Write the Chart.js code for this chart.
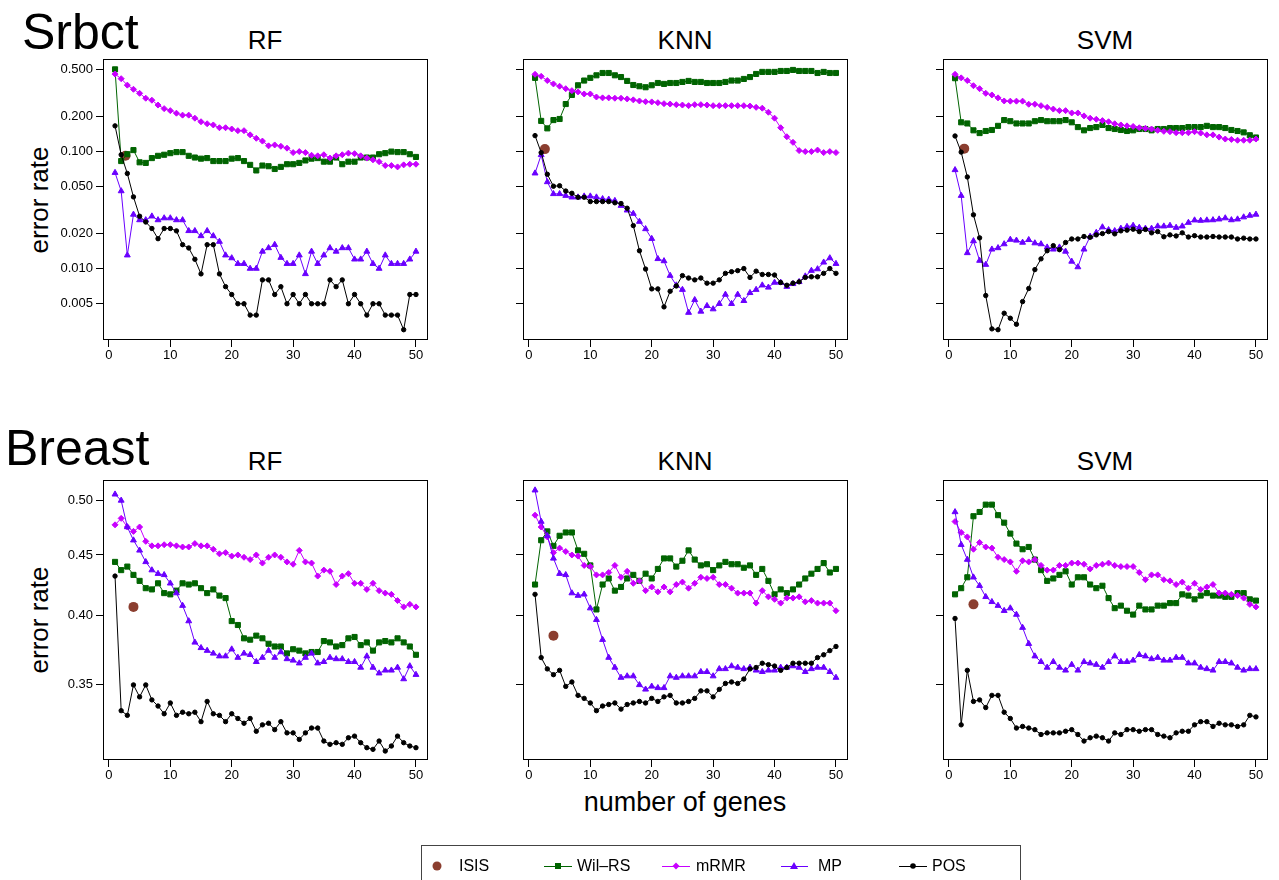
<!DOCTYPE html>
<html>
<head>
<meta charset="utf-8">
<script src="https://cdn.jsdelivr.net/npm/chart.js@4.4.1/dist/chart.umd.min.js"></script>
<style>
  body { margin: 0; background: #fff; }
  #page { position: relative; width: 1279px; height: 880px; overflow: hidden; background: #fff;
          font-family: "Liberation Sans", Arial, sans-serif; color: #000; }
  #page canvas { position: absolute; }
  .txt { position: absolute; line-height: 1; white-space: nowrap; }
  .big { font-size: 50px; }
  .ttl { font-size: 26px; transform: translateX(-50%); }
  .ylab { font-size: 26px; transform: translate(-50%, -50%) rotate(-90deg); }
  #legend { position: absolute; left: 421px; top: 845px; width: 598px; height: 60px; border: 1px solid #444; }
  .leg { position: absolute; font-size: 16px; line-height: 1; }
</style>
</head>
<body>
<div id="page">
  <div class="txt big" style="left:22px; top:7px;">Srbct</div>
  <div class="txt big" style="left:5px; top:423px;">Breast</div>
  <div class="txt ttl" style="left:265px; top:27px;">RF</div>
  <div class="txt ttl" style="left:685px; top:27px;">KNN</div>
  <div class="txt ttl" style="left:1105px; top:27px;">SVM</div>
  <div class="txt ttl" style="left:265px; top:448px;">RF</div>
  <div class="txt ttl" style="left:685px; top:448px;">KNN</div>
  <div class="txt ttl" style="left:1105px; top:448px;">SVM</div>
  <div class="txt ylab" style="left:39px; top:200px;">error rate</div>
  <div class="txt ylab" style="left:39px; top:620px;">error rate</div>
  <div class="txt ttl" style="left:685px; top:789px; font-size:27px;">number of genes</div>
  <div id="legend"></div>
  <canvas id="legendMarks" width="600" height="40" style="left:420px; top:846px;"></canvas>
  <div class="leg" style="left:459px; top:858px;">ISIS</div>
  <div class="leg" style="left:577px; top:858px;">Wil&#8211;RS</div>
  <div class="leg" style="left:696px; top:858px;">mRMR</div>
  <div class="leg" style="left:818px; top:858px;">MP</div>
  <div class="leg" style="left:932px; top:858px;">POS</div>
</div>
<script>
// number of genes (x axis)
const genes = [1,2,3,4,5,6,7,8,9,10,11,12,13,14,15,16,17,18,19,20,21,22,23,24,25,
               26,27,28,29,30,31,32,33,34,35,36,37,38,39,40,41,42,43,44,45,46,47,48,49,50];
const xTicks = [0, 10, 20, 30, 40, 50];

const srbctTicks = [0.005, 0.01, 0.02, 0.05, 0.1, 0.2, 0.5];
const srbctTickLabels = ['0.005', '0.010', '0.020', '0.050', '0.100', '0.200', '0.500'];
const breastTicks = [0.35, 0.40, 0.45, 0.50];
const breastTickLabels = ['0.35', '0.40', '0.45', '0.50'];

// Srbct - RF
const srbctRfWil = [0.505,0.083,0.095,0.103,0.081,0.080,0.088,0.092,0.094,0.097,0.099,0.099,0.092,0.089,0.087,0.088,0.083,0.083,0.083,0.087,0.088,0.083,0.077,0.069,0.076,0.075,0.071,0.074,0.078,0.078,0.080,0.084,0.087,0.088,0.082,0.082,0.089,0.078,0.082,0.082,0.089,0.089,0.089,0.095,0.097,0.100,0.099,0.099,0.095,0.090];
const srbctRfMrmr = [0.46,0.42,0.37,0.341,0.315,0.286,0.275,0.25,0.233,0.224,0.213,0.205,0.205,0.193,0.18,0.173,0.169,0.16,0.16,0.156,0.151,0.151,0.139,0.13,0.123,0.112,0.114,0.111,0.107,0.098,0.100,0.098,0.093,0.092,0.094,0.088,0.092,0.094,0.097,0.096,0.092,0.088,0.085,0.082,0.076,0.076,0.074,0.077,0.078,0.078];
const srbctRfMp = [0.066,0.046,0.013,0.029,0.026,0.026,0.028,0.026,0.027,0.027,0.026,0.026,0.021,0.021,0.019,0.021,0.019,0.017,0.013,0.0123,0.011,0.011,0.010,0.010,0.014,0.015,0.016,0.0124,0.011,0.011,0.013,0.009,0.014,0.011,0.013,0.015,0.014,0.015,0.015,0.012,0.012,0.014,0.011,0.010,0.013,0.011,0.011,0.011,0.012,0.014];
const srbctRfPos = [0.166,0.094,0.065,0.041,0.028,0.025,0.022,0.018,0.022,0.022,0.021,0.016,0.015,0.012,0.009,0.016,0.016,0.009,0.007,0.006,0.005,0.005,0.004,0.004,0.008,0.008,0.006,0.007,0.005,0.006,0.005,0.006,0.005,0.005,0.005,0.008,0.007,0.008,0.005,0.006,0.005,0.004,0.005,0.005,0.004,0.004,0.004,0.003,0.006,0.006];

// Srbct - KNN
const srbctKnnWil = [0.427,0.183,0.158,0.186,0.19,0.255,0.305,0.369,0.405,0.427,0.449,0.47,0.47,0.449,0.434,0.402,0.371,0.362,0.355,0.369,0.386,0.379,0.386,0.386,0.394,0.402,0.394,0.394,0.386,0.386,0.386,0.394,0.405,0.405,0.418,0.434,0.461,0.48,0.48,0.48,0.489,0.489,0.499,0.489,0.489,0.489,0.47,0.48,0.47,0.47];
const srbctKnnMrmr = [0.458,0.44,0.405,0.379,0.362,0.345,0.332,0.324,0.311,0.311,0.293,0.288,0.288,0.286,0.286,0.282,0.277,0.271,0.267,0.266,0.262,0.257,0.255,0.252,0.25,0.247,0.252,0.252,0.25,0.247,0.247,0.247,0.247,0.247,0.247,0.245,0.239,0.235,0.217,0.193,0.16,0.134,0.12,0.102,0.1,0.1,0.103,0.098,0.1,0.098];
const srbctKnnMp = [0.0653,0.0937,0.055,0.0435,0.0435,0.042,0.0407,0.0407,0.0415,0.0415,0.0407,0.0394,0.039,0.038,0.0345,0.0315,0.0295,0.0252,0.0218,0.018,0.0121,0.0116,0.0087,0.0072,0.0066,0.0042,0.0054,0.0043,0.0048,0.0045,0.005,0.006,0.005,0.006,0.0053,0.0062,0.0066,0.0072,0.0069,0.0076,0.0076,0.007,0.0074,0.0077,0.0086,0.0096,0.0099,0.0113,0.0123,0.011];
const srbctKnnPos = [0.137,0.098,0.064,0.0506,0.051,0.046,0.044,0.0407,0.0407,0.0374,0.0374,0.0374,0.0374,0.0365,0.036,0.0328,0.0233,0.0142,0.0099,0.0067,0.0067,0.0047,0.0064,0.0071,0.0087,0.0083,0.008,0.0083,0.0075,0.0075,0.008,0.0091,0.0094,0.0096,0.01,0.0084,0.0095,0.0089,0.0089,0.0088,0.0076,0.0072,0.0075,0.0077,0.0084,0.0085,0.0085,0.0091,0.01,0.0091];

// Srbct - SVM
const srbctSvmWil = [0.424,0.178,0.174,0.152,0.144,0.15,0.153,0.166,0.186,0.182,0.174,0.174,0.174,0.182,0.186,0.182,0.182,0.182,0.186,0.178,0.162,0.152,0.159,0.162,0.169,0.159,0.156,0.153,0.15,0.152,0.156,0.156,0.152,0.156,0.156,0.159,0.159,0.159,0.162,0.162,0.162,0.166,0.162,0.162,0.159,0.153,0.15,0.146,0.138,0.132];
const srbctSvmMrmr = [0.458,0.427,0.405,0.366,0.345,0.315,0.305,0.288,0.271,0.27,0.27,0.27,0.254,0.254,0.247,0.239,0.231,0.224,0.224,0.214,0.214,0.202,0.193,0.189,0.184,0.18,0.173,0.169,0.166,0.164,0.16,0.158,0.156,0.152,0.149,0.148,0.145,0.145,0.145,0.148,0.144,0.139,0.139,0.133,0.128,0.127,0.125,0.125,0.125,0.128];
const srbctSvmMp = [0.0697,0.042,0.0136,0.0172,0.0117,0.0108,0.0146,0.015,0.0162,0.0177,0.0174,0.0167,0.0176,0.0165,0.0162,0.0152,0.0146,0.0152,0.014,0.0115,0.0103,0.0146,0.0188,0.0203,0.0226,0.0214,0.021,0.022,0.0228,0.0233,0.0224,0.022,0.022,0.023,0.023,0.0233,0.0224,0.023,0.0247,0.0259,0.0257,0.0259,0.026,0.0264,0.027,0.026,0.0264,0.0275,0.0284,0.029];
const srbctSvmPos = [0.136,0.099,0.0607,0.0288,0.0183,0.00588,0.00305,0.003,0.00415,0.00376,0.00334,0.00522,0.00675,0.0098,0.0121,0.0142,0.0157,0.0145,0.0167,0.0179,0.0179,0.0188,0.0185,0.0194,0.0199,0.0207,0.0198,0.021,0.0213,0.0217,0.0207,0.0216,0.0202,0.0207,0.0187,0.0194,0.019,0.0202,0.0186,0.0191,0.0186,0.0186,0.0188,0.0186,0.0186,0.0186,0.0179,0.0182,0.0179,0.0179];

// Breast - RF
const breastRfWil = [0.444,0.437,0.44,0.433,0.428,0.422,0.421,0.426,0.418,0.417,0.42,0.426,0.425,0.426,0.422,0.418,0.421,0.416,0.414,0.396,0.393,0.383,0.382,0.385,0.383,0.379,0.377,0.377,0.372,0.375,0.374,0.372,0.373,0.373,0.381,0.38,0.377,0.378,0.383,0.384,0.378,0.38,0.374,0.38,0.381,0.38,0.383,0.38,0.377,0.371];
const breastRfMrmr = [0.477,0.483,0.475,0.471,0.475,0.462,0.458,0.458,0.459,0.459,0.458,0.457,0.457,0.46,0.458,0.458,0.455,0.451,0.452,0.449,0.45,0.448,0.446,0.45,0.443,0.448,0.45,0.448,0.444,0.442,0.454,0.444,0.443,0.432,0.437,0.436,0.425,0.432,0.434,0.426,0.426,0.421,0.426,0.42,0.418,0.417,0.412,0.407,0.409,0.407];
const breastRfMp = [0.506,0.5,0.475,0.463,0.454,0.444,0.437,0.434,0.433,0.426,0.418,0.408,0.396,0.38,0.376,0.374,0.372,0.37,0.37,0.375,0.369,0.372,0.371,0.366,0.369,0.374,0.369,0.373,0.368,0.367,0.365,0.369,0.372,0.365,0.366,0.369,0.368,0.368,0.366,0.366,0.362,0.37,0.362,0.358,0.36,0.36,0.362,0.354,0.363,0.357];
const breastRfPos = [0.432,0.333,0.33,0.35,0.342,0.35,0.34,0.336,0.331,0.338,0.33,0.332,0.331,0.332,0.326,0.339,0.331,0.33,0.326,0.331,0.328,0.325,0.328,0.32,0.324,0.325,0.321,0.326,0.319,0.319,0.315,0.319,0.322,0.322,0.314,0.312,0.313,0.312,0.316,0.317,0.313,0.31,0.309,0.314,0.308,0.311,0.317,0.313,0.311,0.31];

// Breast - KNN
const breastKnnWil = [0.425,0.463,0.471,0.458,0.467,0.47,0.47,0.454,0.451,0.441,0.405,0.425,0.43,0.42,0.423,0.43,0.433,0.428,0.434,0.43,0.438,0.447,0.447,0.44,0.445,0.454,0.446,0.441,0.442,0.437,0.441,0.444,0.442,0.442,0.439,0.441,0.433,0.438,0.428,0.417,0.421,0.418,0.421,0.425,0.43,0.434,0.438,0.443,0.435,0.438];
const breastKnnMrmr = [0.486,0.475,0.466,0.452,0.456,0.453,0.45,0.449,0.441,0.44,0.433,0.433,0.435,0.441,0.431,0.436,0.426,0.428,0.42,0.423,0.419,0.423,0.419,0.425,0.427,0.422,0.426,0.431,0.43,0.431,0.425,0.425,0.422,0.418,0.418,0.418,0.41,0.42,0.415,0.413,0.41,0.414,0.414,0.415,0.411,0.412,0.41,0.41,0.41,0.404];
const breastKnnMp = [0.51,0.48,0.467,0.447,0.434,0.433,0.418,0.416,0.417,0.406,0.397,0.382,0.369,0.362,0.355,0.356,0.356,0.35,0.347,0.349,0.348,0.348,0.356,0.355,0.356,0.356,0.356,0.359,0.359,0.356,0.361,0.361,0.363,0.362,0.361,0.362,0.36,0.359,0.36,0.36,0.362,0.362,0.363,0.362,0.359,0.361,0.362,0.362,0.359,0.355];
const breastKnnPos = [0.417,0.369,0.361,0.357,0.36,0.349,0.352,0.343,0.341,0.338,0.333,0.336,0.337,0.338,0.334,0.337,0.338,0.339,0.338,0.341,0.339,0.342,0.343,0.338,0.338,0.339,0.341,0.346,0.346,0.342,0.347,0.351,0.352,0.351,0.354,0.361,0.362,0.365,0.364,0.363,0.36,0.362,0.365,0.365,0.365,0.365,0.369,0.371,0.374,0.377];

// Breast - SVM
const breastSvmWil = [0.417,0.422,0.431,0.485,0.489,0.496,0.496,0.486,0.479,0.469,0.46,0.455,0.457,0.446,0.437,0.428,0.43,0.433,0.436,0.425,0.431,0.431,0.425,0.422,0.424,0.414,0.406,0.408,0.404,0.401,0.408,0.405,0.405,0.408,0.408,0.41,0.41,0.417,0.416,0.413,0.416,0.418,0.416,0.416,0.415,0.415,0.418,0.418,0.413,0.412];
const breastSvmMrmr = [0.48,0.47,0.466,0.455,0.461,0.457,0.456,0.448,0.446,0.444,0.436,0.445,0.444,0.446,0.441,0.437,0.437,0.441,0.441,0.443,0.443,0.442,0.438,0.441,0.442,0.443,0.441,0.44,0.44,0.44,0.435,0.429,0.433,0.433,0.429,0.428,0.425,0.427,0.422,0.426,0.421,0.423,0.425,0.418,0.418,0.417,0.416,0.414,0.409,0.407];
const breastSvmMp = [0.489,0.459,0.446,0.431,0.424,0.415,0.411,0.408,0.404,0.406,0.401,0.391,0.379,0.37,0.366,0.362,0.366,0.362,0.36,0.364,0.36,0.366,0.365,0.364,0.362,0.366,0.37,0.366,0.366,0.367,0.371,0.37,0.368,0.369,0.367,0.367,0.369,0.369,0.365,0.365,0.362,0.361,0.36,0.366,0.366,0.365,0.362,0.36,0.361,0.361];
const breastSvmPos = [0.398,0.324,0.36,0.339,0.34,0.335,0.343,0.343,0.332,0.328,0.322,0.323,0.322,0.321,0.318,0.319,0.319,0.319,0.32,0.321,0.318,0.314,0.316,0.317,0.316,0.314,0.319,0.318,0.321,0.321,0.32,0.321,0.321,0.318,0.317,0.316,0.319,0.32,0.32,0.324,0.326,0.326,0.323,0.325,0.324,0.324,0.323,0.324,0.33,0.329];

// ISIS: single point per panel [genes, error]
const srbctIsisGenes = [2.7, 2.6, 2.5];
const srbctIsisError = [0.092, 0.105, 0.106];
const breastIsisGenes = [4, 4, 4];
const breastIsisError = [0.407, 0.385, 0.409];

const colWil = '#006400';
const colMrmr = '#C800FF';
const colMp = '#6A00FF';
const colPos = '#000000';
const colIsis = '#8B3E2F';

Chart.defaults.font.family = '"Liberation Sans", Arial, sans-serif';
Chart.defaults.color = '#000';

// draw a full frame around the plot region (like R's box())
const boxPlugin = {
  id: 'box',
  afterDraw(chart) {
    const a = chart.chartArea;
    const c = chart.ctx;
    c.save();
    c.strokeStyle = '#000';
    c.lineWidth = 1;
    c.strokeRect(a.left + 0.5, a.top + 0.5, a.right - a.left - 1, a.bottom - a.top - 1);
    c.restore();
  }
};

function series(label, vals, color, style, radius, order) {
  return {
    label: label,
    data: genes.map((g, i) => ({ x: g, y: vals[i] })),
    borderColor: color,
    backgroundColor: color,
    pointStyle: style,
    pointRadius: radius,
    pointBorderWidth: 1,
    borderWidth: 1,
    showLine: true,
    order: order
  };
}

function drawPanel(left, top, w, h, showLabels, yMin, yMax, yTicks, yLabels, isisX, isisY, wil, mrmr, mp, pos) {
  const padL = 80, padT = 12, padR = 10, padB = 30;
  const cv = document.createElement('canvas');
  cv.width = w + padL + padR;
  cv.height = h + padT + padB;
  cv.style.left = (left - padL) + 'px';
  cv.style.top = (top - padT) + 'px';
  document.getElementById('page').appendChild(cv);

  new Chart(cv, {
    type: 'scatter',
    data: {
      datasets: [
        { label: 'ISIS', data: [{ x: isisX, y: isisY }], backgroundColor: colIsis, borderColor: colIsis,
          pointRadius: 5, pointBorderWidth: 0, showLine: false, order: 5 },
        series('Wil-RS', wil, colWil, 'rect', 3.6, 4),
        series('mRMR', mrmr, colMrmr, 'rectRot', 3, 3),
        series('MP', mp, colMp, 'triangle', 3.4, 2),
        series('POS', pos, colPos, 'circle', 2.2, 1)
      ]
    },
    options: {
      responsive: false,
      animation: false,
      devicePixelRatio: 1,
      layout: { padding: { left: 0, top: padT, right: padR, bottom: 0 } },
      plugins: { legend: { display: false }, tooltip: { enabled: false } },
      scales: {
        x: {
          type: 'linear',
          min: -0.96,
          max: 51.96,
          afterBuildTicks: s => { s.ticks = xTicks.map(v => ({ value: v })); },
          afterFit: s => { s.height = padB; },
          grid: { drawOnChartArea: false, tickLength: 7, color: '#000' },
          border: { display: false },
          ticks: { font: { size: 13 }, color: '#000', padding: 1, maxRotation: 0, autoSkip: false }
        },
        y: {
          type: 'logarithmic',
          min: yMin,
          max: yMax,
          afterBuildTicks: s => { s.ticks = yTicks.map(v => ({ value: v })); },
          afterFit: s => { s.width = padL; },
          grid: { drawOnChartArea: false, tickLength: 7, color: '#000' },
          border: { display: false },
          ticks: {
            font: { size: 13 }, color: '#000', padding: 3, autoSkip: false,
            callback: (v, i) => showLabels ? yLabels[i] : ''
          }
        }
      }
    },
    plugins: [boxPlugin]
  });
}

const boxW = 325;
const srbctMin = 0.00245, srbctMax = 0.619;
const breastMin = 0.3027, breastMax = 0.5202;

drawPanel(103, 59, boxW, 281, true, srbctMin, srbctMax, srbctTicks, srbctTickLabels,
          srbctIsisGenes[0], srbctIsisError[0], srbctRfWil, srbctRfMrmr, srbctRfMp, srbctRfPos);
drawPanel(523, 59, boxW, 281, false, srbctMin, srbctMax, srbctTicks, srbctTickLabels,
          srbctIsisGenes[1], srbctIsisError[1], srbctKnnWil, srbctKnnMrmr, srbctKnnMp, srbctKnnPos);
drawPanel(943, 59, boxW, 281, false, srbctMin, srbctMax, srbctTicks, srbctTickLabels,
          srbctIsisGenes[2], srbctIsisError[2], srbctSvmWil, srbctSvmMrmr, srbctSvmMp, srbctSvmPos);

drawPanel(103, 480, boxW, 280, true, breastMin, breastMax, breastTicks, breastTickLabels,
          breastIsisGenes[0], breastIsisError[0], breastRfWil, breastRfMrmr, breastRfMp, breastRfPos);
drawPanel(523, 480, boxW, 280, false, breastMin, breastMax, breastTicks, breastTickLabels,
          breastIsisGenes[1], breastIsisError[1], breastKnnWil, breastKnnMrmr, breastKnnMp, breastKnnPos);
drawPanel(943, 480, boxW, 280, false, breastMin, breastMax, breastTicks, breastTickLabels,
          breastIsisGenes[2], breastIsisError[2], breastSvmWil, breastSvmMrmr, breastSvmMp, breastSvmPos);

// legend symbols
(function () {
  const c = document.getElementById('legendMarks').getContext('2d');
  const y = 20; // canvas top is at 846
  const ox = 420;
  function line(x1, x2, col) {
    c.strokeStyle = col; c.lineWidth = 1;
    c.beginPath(); c.moveTo(x1 - ox, y + 0.5); c.lineTo(x2 - ox, y + 0.5); c.stroke();
  }
  c.fillStyle = colIsis;
  c.beginPath(); c.arc(437 - ox, y, 4.5, 0, Math.PI * 2); c.fill();

  line(544, 572, colWil);
  c.fillStyle = colWil; c.fillRect(558 - ox - 3, y - 3, 6, 6);

  line(662, 690, colMrmr);
  c.fillStyle = colMrmr;
  c.beginPath(); c.moveTo(676 - ox, y - 3.5); c.lineTo(676 - ox + 3.5, y); c.lineTo(676 - ox, y + 3.5); c.lineTo(676 - ox - 3.5, y); c.closePath(); c.fill();

  line(781, 808, colMp);
  c.fillStyle = colMp;
  c.beginPath(); c.moveTo(794 - ox, y - 4); c.lineTo(794 - ox + 4, y + 3); c.lineTo(794 - ox - 4, y + 3); c.closePath(); c.fill();

  line(899, 927, colPos);
  c.fillStyle = colPos;
  c.beginPath(); c.arc(913 - ox, y, 2.8, 0, Math.PI * 2); c.fill();
})();
</script>
</body>
</html>
